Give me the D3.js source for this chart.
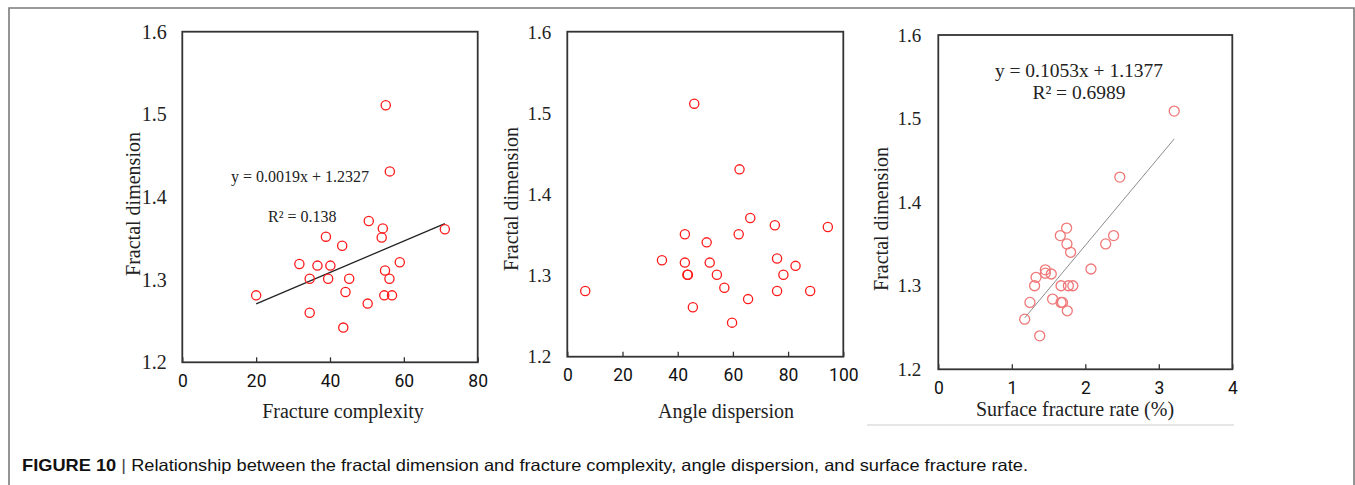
<!DOCTYPE html>
<html>
<head>
<meta charset="utf-8">
<script src="https://cdn.jsdelivr.net/npm/d3@7"></script>
<style>
	body { margin: 0; background: #fff; }
	svg { display: block; }
</style>
</head>
<body>
<script>
// Panel a: fracture complexity vs fractal dimension
const complexity = [55.1, 56.2, 50.5, 54.3, 71.1, 54.0, 38.9, 43.3, 31.7, 36.6, 40.1, 58.9, 54.9, 34.5, 39.5, 45.2, 56.1, 20.0, 44.2, 54.7, 56.8, 50.2, 34.5, 43.6];
const fdComplexity = [1.511, 1.431, 1.371, 1.362, 1.361, 1.351, 1.352, 1.341, 1.319, 1.317, 1.317, 1.321, 1.311, 1.301, 1.301, 1.301, 1.301, 1.281, 1.285, 1.281, 1.281, 1.271, 1.260, 1.242];

// Panel b: angle dispersion vs fractal dimension
const angleDispersion = [46.0, 62.4, 66.3, 75.2, 94.4, 42.6, 62.1, 50.5, 34.3, 42.6, 51.6, 76.0, 82.7, 43.5, 43.7, 54.2, 78.3, 6.5, 56.9, 76.0, 88.0, 65.5, 45.5, 59.7];
const fdAngle = [1.512, 1.431, 1.371, 1.362, 1.360, 1.351, 1.351, 1.341, 1.319, 1.316, 1.316, 1.321, 1.312, 1.301, 1.301, 1.301, 1.301, 1.281, 1.285, 1.281, 1.281, 1.271, 1.261, 1.242];

// Panel c: surface fracture rate (%) vs fractal dimension
const surfaceRate = [3.21, 2.47, 1.746, 1.66, 2.385, 1.75, 2.277, 1.80, 2.077, 1.456, 1.456, 1.537, 1.33, 1.31, 1.67, 1.77, 1.83, 1.555, 1.247, 1.67, 1.69, 1.755, 1.175, 1.38];
const fdSurface = [1.509, 1.430, 1.369, 1.360, 1.360, 1.350, 1.350, 1.340, 1.320, 1.319, 1.315, 1.314, 1.310, 1.300, 1.300, 1.300, 1.300, 1.284, 1.280, 1.280, 1.280, 1.270, 1.260, 1.240];

// Tick labels
const yTicks = [1.2, 1.3, 1.4, 1.5, 1.6];
const xTicksA = [0, 20, 40, 60, 80];
const xTicksB = [0, 20, 40, 60, 80, 100];
const xTicksC = [0, 1, 2, 3, 4];

// Linear fits printed on the chart (slope, intercept)
const fitA = [0.0019, 1.2327];
const fitC = [0.1053, 1.1377];

const caption = "Relationship between the fractal dimension and fracture complexity, angle dispersion, and surface fracture rate.";

const width = 1355;
const height = 485;

const svg = d3.select("body").append("svg").attr("width", width).attr("height", height);

// Outer figure frame (open at bottom)
svg.append("path")
	.attr("d", `M9,${height} V8 H1354 V${height}`)
	.attr("fill", "none")
	.attr("stroke", "#7a7a7a")
	.attr("stroke-width", 1.6);

// faint line under the third panel image
svg.append("line")
	.attr("x1", 867).attr("x2", 1234)
	.attr("y1", 425).attr("y2", 425)
	.attr("stroke", "#e6e6e6")
	.attr("stroke-width", 2);

function drawPanel(cfg) {
	const x = d3.scaleLinear().domain(cfg.xDomain).range(cfg.xRange);
	const y = d3.scaleLinear().domain([1.2, 1.6]).range(cfg.yRange);
	const g = svg.append("g");

	// x axis: ticks inside the frame
	const xAxis = g.append("g")
		.attr("transform", `translate(0,${cfg.yRange[0]})`)
		.call(d3.axisBottom(x).tickValues(cfg.xTicks).tickFormat(d3.format("d")).tickSizeInner(-5).tickSizeOuter(0).tickPadding(12));
	xAxis.select(".domain").remove();
	xAxis.selectAll("line").attr("stroke", "#333").attr("stroke-width", 1.3);
	xAxis.selectAll("text")
		.attr("font-family", "Roboto, 'Open Sans', sans-serif")
		.attr("font-size", 17.5)
		.attr("fill", "#111");

	// y axis: no tick marks
	const yAxis = g.append("g")
		.attr("transform", `translate(${cfg.xRange[0]},0)`)
		.call(d3.axisLeft(y).tickValues(yTicks).tickFormat(d3.format(".1f")).tickSize(0).tickPadding(cfg.yPad));
	yAxis.select(".domain").remove();
	yAxis.selectAll("text")
		.attr("font-family", "'Liberation Serif', 'Times New Roman', serif")
		.attr("font-size", cfg.yFont)
		.attr("fill", "#222");

	// plot frame
	g.append("rect")
		.attr("x", cfg.xRange[0])
		.attr("y", cfg.frameTop)
		.attr("width", cfg.xRange[1] - cfg.xRange[0])
		.attr("height", cfg.yRange[0] - cfg.frameTop)
		.attr("fill", "none")
		.attr("stroke", "#333")
		.attr("stroke-width", 1.8);

	// trend line
	if (cfg.fit) {
		const [x0, x1] = d3.extent(cfg.xs);
		g.append("line")
			.attr("x1", x(x0)).attr("y1", y(cfg.fit[0] * x0 + cfg.fit[1]))
			.attr("x2", x(x1)).attr("y2", y(cfg.fit[0] * x1 + cfg.fit[1]))
			.attr("stroke", cfg.fitColor)
			.attr("stroke-width", cfg.fitWidth);
	}

	// points
	g.selectAll("circle")
		.data(d3.range(cfg.xs.length))
		.enter()
		.append("circle")
		.attr("cx", (i) => x(cfg.xs[i]))
		.attr("cy", (i) => y(cfg.ys[i]))
		.attr("r", cfg.r)
		.attr("fill", "none")
		.attr("stroke", cfg.pointColor)
		.attr("stroke-width", 1.3);

	// axis titles
	g.append("text")
		.attr("x", cfg.xTitlePos[0])
		.attr("y", cfg.xTitlePos[1])
		.attr("text-anchor", "middle")
		.attr("font-family", "'Liberation Serif', 'Times New Roman', serif")
		.attr("font-size", 20)
		.attr("fill", "#222")
		.text(cfg.xTitle);

	g.append("text")
		.attr("transform", `translate(${cfg.yTitlePos[0]},${cfg.yTitlePos[1]}) rotate(-90)`)
		.attr("text-anchor", "middle")
		.attr("font-family", "'Liberation Serif', 'Times New Roman', serif")
		.attr("font-size", 20)
		.attr("fill", "#222")
		.text("Fractal dimension");

	// equation labels
	(cfg.labels || []).forEach((l) => {
		g.append("text")
			.attr("x", l.x)
			.attr("y", l.y)
			.attr("text-anchor", l.anchor || "start")
			.attr("font-family", "'Liberation Serif', 'Times New Roman', serif")
			.attr("font-size", l.size)
			.attr("fill", "#222")
			.text(l.text);
	});
}

const eqText = (f) => `y = ${f[0].toFixed(4)}x + ${f[1].toFixed(4)}`;

drawPanel({
	xs: complexity, ys: fdComplexity,
	xDomain: [0, 80], xRange: [182.3, 477.7],
	yRange: [362.3, 31.7], frameTop: 31.7,
	xTicks: xTicksA, yPad: 15.5, yFont: 20,
	xTitle: "Fracture complexity", xTitlePos: [343, 418],
	yTitlePos: [140, 204],
	fit: fitA, fitColor: "#222", fitWidth: 1.3,
	pointColor: "#ff1a1a", r: 4.6,
	labels: [
		{ x: 231, y: 182, size: 16, text: eqText(fitA) },
		{ x: 268, y: 222, size: 16, text: "R² = 0.138" }
	]
});

drawPanel({
	xs: angleDispersion, ys: fdAngle,
	xDomain: [0, 100], xRange: [567.3, 843.3],
	yRange: [356.7, 32.3], frameTop: 31.7,
	xTicks: xTicksB, yPad: 16, yFont: 19,
	xTitle: "Angle dispersion", xTitlePos: [726, 418],
	yTitlePos: [518, 199],
	pointColor: "#ff1a1a", r: 4.6
});

drawPanel({
	xs: surfaceRate, ys: fdSurface,
	xDomain: [0, 4], xRange: [938.3, 1232.3],
	yRange: [369.3, 35], frameTop: 35,
	xTicks: xTicksC, yPad: 17, yFont: 19,
	xTitle: "Surface fracture rate (%)", xTitlePos: [1075, 416],
	yTitlePos: [888, 219],
	fit: fitC, fitColor: "#8c8c8c", fitWidth: 1,
	pointColor: "#f07878", r: 5,
	labels: [
		{ x: 1079, y: 77, size: 19.5, anchor: "middle", text: eqText(fitC) },
		{ x: 1079, y: 99, size: 19.5, anchor: "middle", text: "R² = 0.6989" }
	]
});

// Caption
const cap = svg.append("text")
	.attr("x", 22)
	.attr("y", 471)
	.attr("font-family", "'Liberation Sans', Arial, sans-serif")
	.attr("font-size", 16.5)
	.attr("fill", "#111");
cap.append("tspan").attr("font-weight", "bold").text("FIGURE 10");
cap.append("tspan").attr("fill", "#444").text(" | ");
cap.append("tspan").text(caption);
cap.attr("textLength", 1006).attr("lengthAdjust", "spacingAndGlyphs");
</script>
</body>
</html>
